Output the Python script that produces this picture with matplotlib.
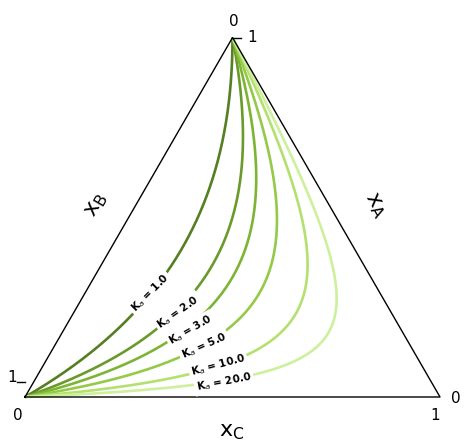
import numpy as np
import matplotlib
matplotlib.use("Agg")
import matplotlib.pyplot as plt

K_values = [1.0, 2.0, 3.0, 5.0, 10.0, 20.0]
K_labels = ["1.0", "2.0", "3.0", "5.0", "10.0", "20.0"]
colors = ["#557f22", "#6a9a2a", "#7db434", "#95c948", "#b3e06e", "#cdf09c"]
label_px = [(150, 293, 45), (178, 312, 35), (191, 330, 30), (204, 346, 24), (218, 365, 15), (224, 382, 11)]

fig = plt.figure(figsize=(4.74, 4.48), dpi=100)
ax = fig.add_axes([0, 0, 1, 1])
ax.set_xlim(-25/415, 449/415)
ax.set_ylim(-(448-397)/415, 397/415)
ax.axis("off")
h = np.sqrt(3)/2

def to_xy(xa, xb, xc):
    return xc + 0.5*xa, h*xa

ax.plot([0, 1, 0.5, 0], [0, 0, h, 0], color="black", lw=1.0, zorder=3)

t = np.linspace(0, 1, 400)
for K, lab, c, (px, py, rot) in zip(K_values, K_labels, colors, label_px):
    xa = t
    xb = (1 - t)/(1 + K*t)
    xc = 1 - xa - xb
    x, y = to_xy(xa, xb, xc)
    ax.plot(x, y, color=c, lw=1.9, zorder=2, solid_capstyle="butt")
    ax.text((px-25)/415, (397-py)/415, r"K$_a$ = " + lab, rotation=rot, ha="center", va="center",
            fontsize=7.5, fontweight="bold", zorder=4,
            bbox=dict(facecolor="white", edgecolor="none", pad=1.5))

def P(px, py):
    return (px-25)/415, (397-py)/415

fs = 11
for (px, py, s) in [(234, 22, "0"), (252, 38, "1"), (12, 377, "1"), (18, 415, "0"), (435, 415, "1"), (456, 398, "0")]:
    ax.text(*P(px, py), s, fontsize=fs, ha="center", va="center")
# small ticks
ax.plot([0.5, 0.5+0.02], [h, h], color="black", lw=1)
ax.plot([0, -0.02], [0.035, 0.035], color="black", lw=1)
ax.text(*P(232, 432), r"x$_\mathrm{C}$", fontsize=16, ha="center", va="center")
ax.text(*P(97, 205), r"x$_\mathrm{B}$", fontsize=16, ha="center", va="center", rotation=60)
ax.text(*P(375, 205), r"x$_\mathrm{A}$", fontsize=16, ha="center", va="center", rotation=-60)

fig.savefig("out.png", dpi=100)
